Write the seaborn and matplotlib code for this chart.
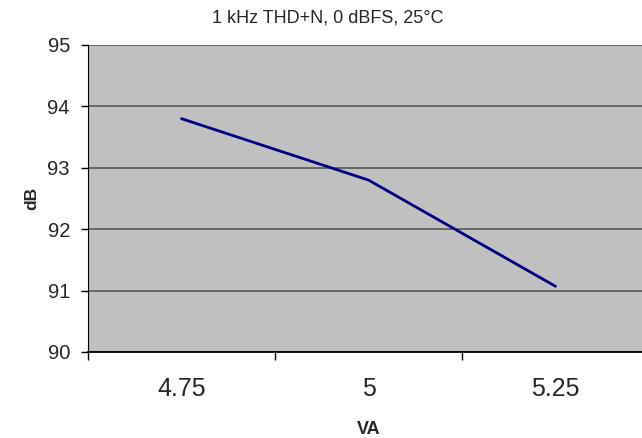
import matplotlib
matplotlib.use("Agg")
import matplotlib.pyplot as plt
import seaborn as sns
import pandas as pd
import numpy as np

# -------------------------------
# Data
# -------------------------------
supply_va = ["4.75", "5", "5.25"]
thd_db = [93.8, 92.8, 91.07]
y_ticks = [90, 91, 92, 93, 94, 95]

df = pd.DataFrame({"pos": np.arange(len(supply_va)), "db": thd_db})

sns.set_style("white")
plt.rcParams["font.family"] = ["Liberation Sans", "DejaVu Sans"]

fig = plt.figure(figsize=(6.42, 4.38), dpi=100)
ax = fig.add_axes([88 / 642, 1 - 352 / 438, 561 / 642, 307 / 438])
ax.set_facecolor("#c0c0c0")

sns.lineplot(data=df, x="pos", y="db", ax=ax, color="#000080", linewidth=2)

# -------------------------------
# Axes styling (Excel look)
# -------------------------------
ax.set_xlim(-0.5, len(supply_va) - 0.5)
ax.set_ylim(y_ticks[0], y_ticks[-1])
ax.set_yticks(y_ticks)
ax.yaxis.grid(True, color="#606060", linewidth=1.3)
ax.set_axisbelow(True)

ax.set_xticks(np.arange(len(supply_va) + 1) - 0.5)
ax.set_xticklabels([])
ax.set_xticks(np.arange(len(supply_va)), minor=True)
ax.set_xticklabels(supply_va, minor=True, fontsize=18)
ax.tick_params(axis="x", which="major", bottom=True, direction="out", length=6, width=1, color="black")
ax.tick_params(axis="x", which="minor", bottom=True, length=0, pad=18)
ax.tick_params(axis="y", left=True, direction="out", length=5, width=1, color="black", labelsize=14.5, pad=8)

for side in ["top", "right"]:
    ax.spines[side].set_visible(False)
ax.spines["left"].set_color("black")
ax.spines["bottom"].set_color("black")
ax.spines["bottom"].set_linewidth(1.3)

ax.set_xlabel("VA", fontsize=13, fontweight="bold")
ax.xaxis.label.set_va("center")
ax.xaxis.set_label_coords((369 - 88) / 561, (352 - 430) / 307)
ax.set_ylabel("dB", fontsize=12.5, fontweight="bold")
ax.yaxis.label.set_va("center")
ax.yaxis.set_label_coords((32 - 88) / 561, 0.5)

fig.text(328 / 642, 1 - 18 / 438, "1 kHz THD+N, 0 dBFS, 25°C",
         fontsize=13, ha="center", va="center")

fig.savefig("out.png", dpi=100)
